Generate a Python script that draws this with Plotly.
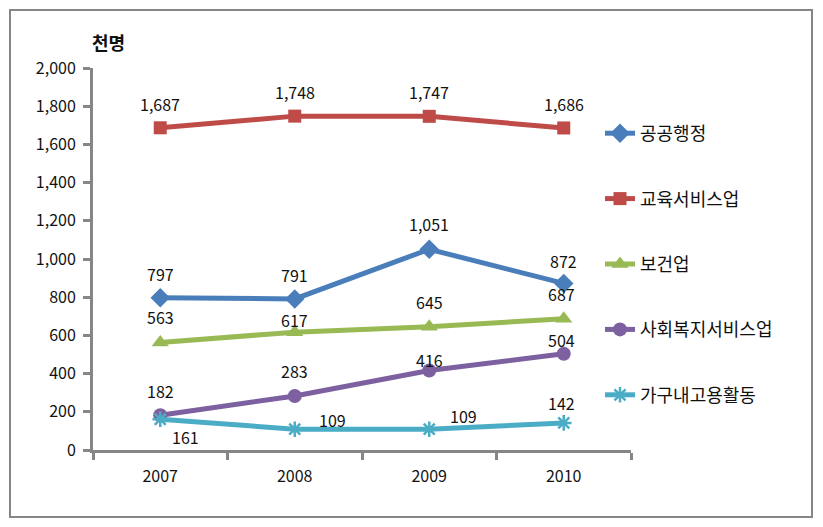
import plotly.graph_objects as go

years = ["2007", "2008", "2009", "2010"]
series_names = ["공공행정", "교육서비스업", "보건업", "사회복지서비스업", "가구내고용활동"]
public_admin = [797, 791, 1051, 872]
education = [1687, 1748, 1747, 1686]
health = [563, 617, 645, 687]
social_welfare = [182, 283, 416, 504]
household = [161, 109, 109, 142]
y_ticks = [0, 200, 400, 600, 800, 1000, 1200, 1400, 1600, 1800, 2000]

values = [public_admin, education, health, social_welfare, household]
colors = ["#4A7EBB", "#BE4B48", "#98B954", "#7D60A0", "#4BACC6"]
symbols = ["diamond", "square", "triangle-up", "circle", "asterisk-open"]
msizes = [15, 13, 15, 14, 13]
# label offsets (xshift, yshift) in px
label_shifts = [
    [(0, 24), (0, 24), (0, 25), (0, 22)],
    [(0, 24), (0, 24), (0, 24), (0, 24)],
    [(0, 25), (0, 12), (0, 25), (-2, 25)],
    [(0, 24), (0, 25), (0, 11), (-2, 14)],
    [(25, -18), (38, 9), (34, 13), (-2, 20)],
]

# page body has an 8px margin; compensate so the picture lands where intended
OX, OY = 8, 8
W, H = 815, 519
L, T = 93 - OX, 68 - OY
R = W - (631 - OX)
B = H - (450 - OY)
pw, ph = W - L - R, H - T - B


def px_to_paper_x(px):
    return (px - OX - L) / pw


def px_to_paper_y(py):
    return (H - B - (py - OY)) / ph


fig = go.Figure()
annotations = []
for i, name in enumerate(series_names):
    marker = dict(symbol=symbols[i], size=msizes[i], color=colors[i])
    if symbols[i] == "asterisk-open":
        marker["line"] = dict(color=colors[i], width=2.5)
    fig.add_trace(go.Scatter(
        x=years, y=values[i], name=name, mode="lines+markers",
        line=dict(color=colors[i], width=5), marker=marker,
        legendgroup=name, cliponaxis=False,
    ))
    for j, v in enumerate(values[i]):
        xs, ys = label_shifts[i][j]
        annotations.append(dict(
            x=j, y=v, text=f"{v:,}", showarrow=False,
            xshift=xs, yshift=ys, xref="x", yref="y",
            xanchor="center", yanchor="middle",
            font=dict(size=16, color="#111111", family="Noto Sans CJK KR"),
        ))

annotations.append(dict(
    x=px_to_paper_x(108), y=px_to_paper_y(42), xref="paper", yref="paper",
    xanchor="center", yanchor="middle",
    text="<b>천명</b>", showarrow=False,
    font=dict(size=18, color="#111111", family="Noto Sans CJK KR"),
))

axis_color = "#868686"
fig.update_layout(
    width=W, height=H,
    margin=dict(l=L, r=R, t=T, b=B, autoexpand=False),
    paper_bgcolor="white", plot_bgcolor="white",
    font=dict(family="Noto Sans CJK KR", size=16, color="#111111"),
    showlegend=True,
    legend=dict(
        x=px_to_paper_x(600), y=px_to_paper_y(115), xanchor="left", yanchor="top",
        font=dict(size=18, color="#111111"), tracegroupgap=39,
        bgcolor="rgba(0,0,0,0)",
    ),
    xaxis=dict(
        type="category", range=[-0.5, 3.5], tickson="boundaries",
        showline=True, linecolor=axis_color, linewidth=3,
        ticks="outside", ticklen=7, tickwidth=3, tickcolor=axis_color,
        showgrid=False, zeroline=False, ticklabelstandoff=10,
        tickfont=dict(size=16),
    ),
    yaxis=dict(
        range=[0, 2000], tickvals=y_ticks, tickformat=",",
        showline=True, linecolor=axis_color, linewidth=3,
        ticks="outside", ticklen=7, tickwidth=3, tickcolor=axis_color,
        showgrid=False, zeroline=False, ticklabelstandoff=4,
        tickfont=dict(size=16),
    ),
    annotations=annotations,
    shapes=[dict(
        type="rect", xref="paper", yref="paper",
        x0=px_to_paper_x(10), x1=px_to_paper_x(812),
        y0=px_to_paper_y(517), y1=px_to_paper_y(10),
        line=dict(color=axis_color, width=2),
    )],
)

fig.write_html("out.html")
